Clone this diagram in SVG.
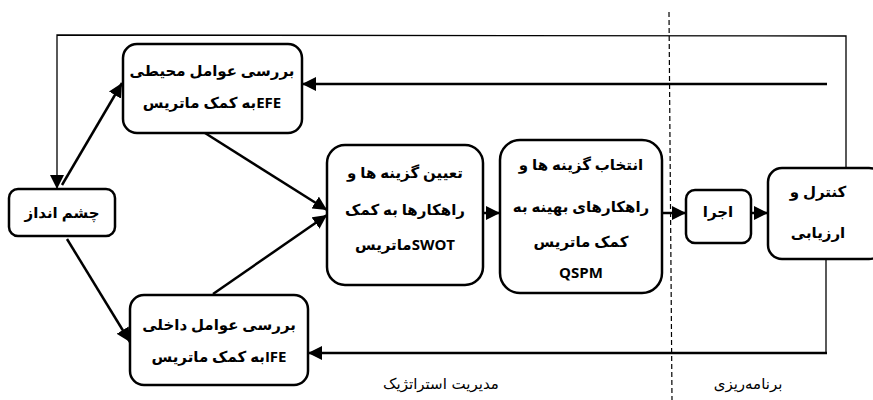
<svg xmlns="http://www.w3.org/2000/svg" width="873" height="400" viewBox="0 0 873 400">
<defs>
<marker id="ah" markerUnits="userSpaceOnUse" markerWidth="14" markerHeight="14" viewBox="0 0 14 14" refX="14" refY="7" orient="auto">
<path d="M0,0 L14,7 L0,14 Z" fill="#000"/>
</marker>
</defs>
<style>
.box{fill:#fff;stroke:#000;stroke-width:2.5}
.t{font-family:"Open Sans","DejaVu Sans",sans-serif;font-weight:bold;font-size:15px;text-anchor:middle;direction:rtl;unicode-bidi:embed;fill:#000}
.lbl{font-family:"DejaVu Sans",sans-serif;font-size:15px;text-anchor:middle;direction:rtl;unicode-bidi:embed;fill:#000}
.thick{fill:none;stroke:#000;stroke-width:2.5}
.thin{fill:none;stroke:#000;stroke-width:1.3}
.dash{fill:none;stroke:#000;stroke-width:1.2;stroke-dasharray:5,3}
</style>
<g id="connectors">
<line class="dash" x1="669" y1="12" x2="672" y2="400"/>
<polyline class="thin" points="846,168 846,36 57,35 57,178"/>
<path d="M57,176 L57,189" stroke="#000" stroke-width="1.3" marker-end="url(#ah)"/>
<line class="thick" x1="827" y1="84" x2="302" y2="84" marker-end="url(#ah)"/>
<line class="thin" x1="826" y1="259" x2="826" y2="353"/>
<line class="thick" x1="827" y1="353" x2="308" y2="353" marker-end="url(#ah)"/>
<line class="thick" x1="62" y1="185" x2="122" y2="83" marker-end="url(#ah)"/>
<line class="thick" x1="67" y1="239" x2="130" y2="342" marker-end="url(#ah)"/>
<line class="thick" x1="205" y1="133" x2="327" y2="210" marker-end="url(#ah)"/>
<line class="thick" x1="213" y1="294" x2="327" y2="215" marker-end="url(#ah)"/>
<line class="thick" x1="483" y1="213" x2="500" y2="213" marker-end="url(#ah)"/>
<line class="thick" x1="662" y1="213" x2="686" y2="213" marker-end="url(#ah)"/>
<line class="thick" x1="751" y1="213" x2="768" y2="213" marker-end="url(#ah)"/>
</g>
<g id="vision">
<rect class="box" x="9" y="189" width="106" height="47" rx="9"/>
<text class="t" x="62" y="218">چشم انداز</text>
</g>
<g id="efe">
<rect class="box" x="123" y="44" width="179" height="89" rx="14"/>
<text class="t" x="212" y="76">بررسی عوامل محیطی</text>
<text class="t" x="212" y="108">EFEبه کمک ماتریس</text>
</g>
<g id="ife">
<rect class="box" x="130" y="295" width="178" height="90" rx="14"/>
<text class="t" x="219" y="330">بررسی عوامل داخلی</text>
<text class="t" x="219" y="362">IFEبه کمک ماتریس</text>
</g>
<g id="swot">
<rect class="box" x="327" y="145" width="156" height="140" rx="18"/>
<text class="t" x="405" y="178">تعیین گزینه ها و</text>
<text class="t" x="405" y="215">راهکارها به کمک</text>
<text class="t" x="405" y="250">SWOTماتریس</text>
</g>
<g id="qspm">
<rect class="box" x="500" y="140" width="162" height="153" rx="20"/>
<text class="t" x="581" y="170">انتخاب گزینه ها و</text>
<text class="t" x="581" y="212">راهکارهای بهینه به</text>
<text class="t" x="581" y="247">کمک ماتریس</text>
<text class="t" x="581" y="278">QSPM</text>
</g>
<g id="ajra">
<rect class="box" x="686" y="190" width="65" height="53" rx="9"/>
<text class="t" x="718" y="217">اجرا</text>
</g>
<g id="control">
<rect class="box" x="768" y="168" width="115" height="91" rx="14"/>
<text class="t" x="818" y="197">کنترل و</text>
<text class="t" x="818" y="238">ارزیابی</text>
</g>
<g id="labels">
<text class="lbl" x="441" y="389">مدیریت استراتژیک</text>
<text class="lbl" x="748" y="389">برنامه‌ریزی</text>
</g>
</svg>
